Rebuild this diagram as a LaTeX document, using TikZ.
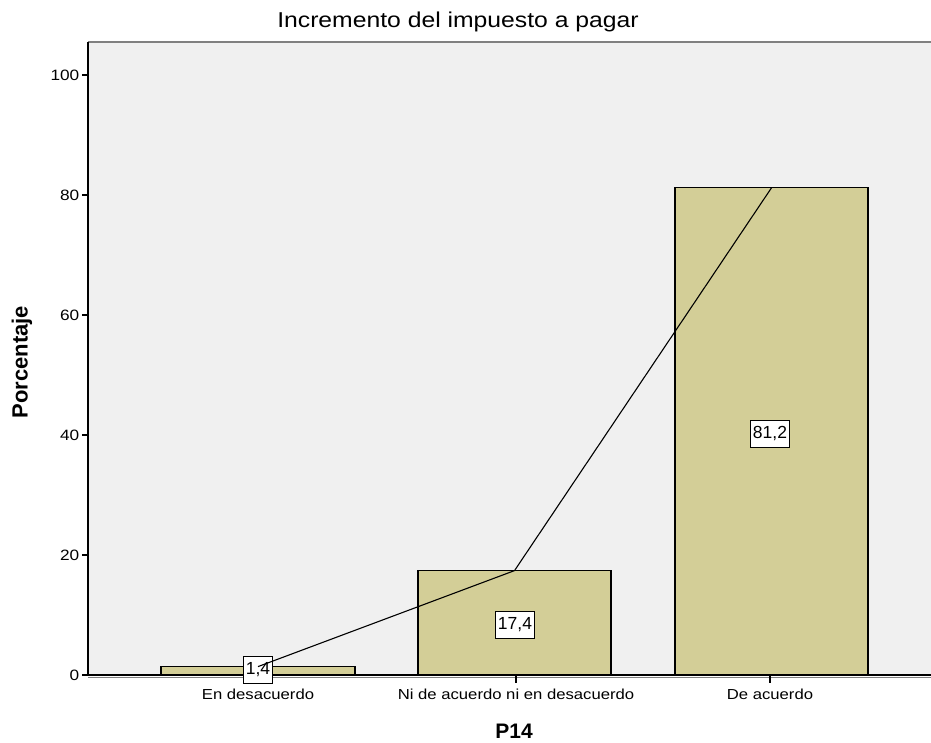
\documentclass[tikz,border=0pt]{standalone}
\usepackage{fontspec}
\setmainfont{Liberation Sans}
\newfontfamily\widefont{Liberation Sans}[FakeStretch=1.15]
\usetikzlibrary{positioning}
\colorlet{plot area}{black!6}
\colorlet{frame edge}{black!50}
\definecolor{bar fill}{RGB}{211,206,151}
\tikzset{
  bar/.style={fill=bar fill, draw=black, line width=1.3pt},
  axis/.style={draw=black, line width=1.4pt},
  valbox/.style={draw=black, fill=white, line width=1.4pt, inner xsep=2.5pt,
    inner ysep=0pt, minimum height=27pt, font=\fontsize{17.5}{20}\selectfont},
  ticklabel/.style={font=\widefont\fontsize{15}{17}\selectfont, inner sep=1pt},
  catlabel/.style={font=\widefont\fontsize{14.5}{17}\selectfont, inner sep=0pt},
  trend/.style={draw=black, line width=1.1pt}
}

\begin{document}
\begin{tikzpicture}[x=1pt, y=-1pt]
    \useasboundingbox (0,0) rectangle (931,742);
    % plot area
    \fill[plot area] (88,42) rectangle (931,675);
    \draw[frame edge, line width=1.6pt] (88,42) -- (931,42);
    \node[font=\widefont\fontsize{21.5}{24}\selectfont] (title) at (458,22) {Incremento del impuesto a pagar};
    \begin{scope}[shift={(0,675)}, y=6pt]
      % y ticks
      \foreach \v in {0,20,...,100} {
        \draw[axis] (82,\v) -- (88,\v) node[ticklabel, left=1pt of {(82,\v)}] (tick\v) {\v};
      }
      % bars
      \draw[bar] (161,0) rectangle (355,1.4);
      \draw[bar] (418,0) rectangle (611,17.4);
      \draw[bar] (675,0) rectangle (868,81.2);
      \coordinate (top1) at (258,1.4);
      \coordinate (top2) at (514.5,17.4);
      \coordinate (top3) at (771.5,81.2);
    \end{scope}
    % axes
    \draw[axis] (88,42) -- (88,675) -- (931,675);
    \draw[frame edge, line width=0.8pt] (88,677.5) -- (931,677.5);
    \foreach \x/\n in {258/1, 516/2, 770/3}
      \draw[axis] (\x,675) -- (\x,683) coordinate (xt\n);
    \node[catlabel, below=6pt of xt1] (cat1) {En desacuerdo};
    \node[catlabel, below=6pt of xt2] (cat2) {Ni de acuerdo ni en desacuerdo};
    \node[catlabel, below=6pt of xt3] (cat3) {De acuerdo};
    \node[font=\bfseries\fontsize{21}{24}\selectfont, inner sep=0pt] (xlabel) at (514,731) {P14};
    \node[font=\bfseries\fontsize{22}{26}\selectfont, rotate=90] (ylabel) at (22,362) {Porcentaje};
    % value boxes
    \node[valbox] (val1) at (258,670) {1,4};
    \node[valbox] (val2) at (515,625) {17,4};
    \node[valbox] (val3) at (770,434) {81,2};
    \draw[trend] (top1) -- (top2) -- (top3);
  \end{tikzpicture}
\end{document}
